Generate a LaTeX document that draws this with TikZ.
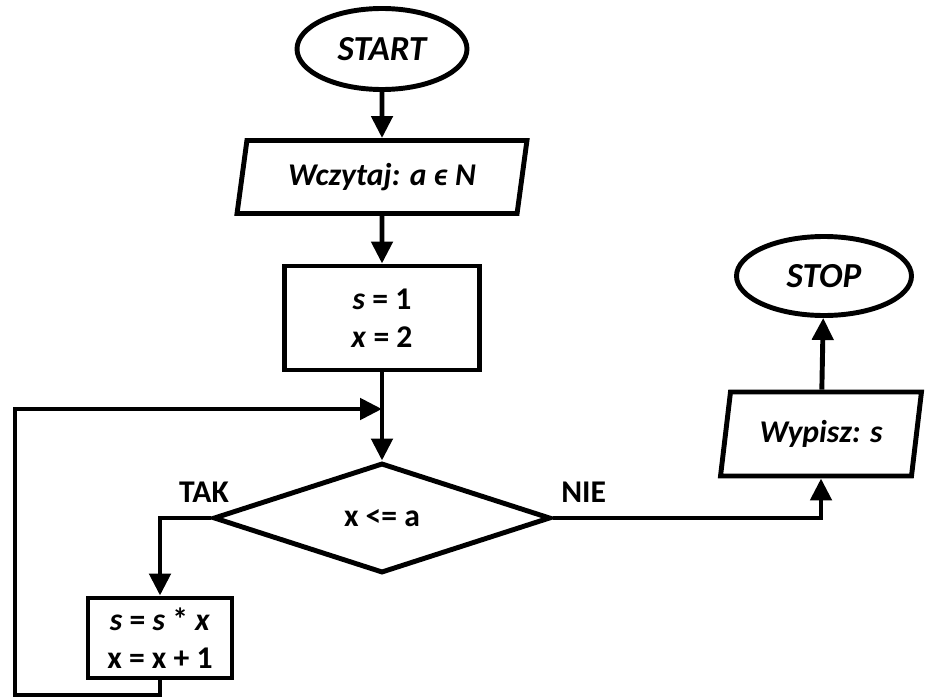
\documentclass[tikz,border=0pt]{standalone}
\usepackage{fontspec}
\setmainfont{Carlito}
\usepackage{tikz}
\usetikzlibrary{arrows.meta,shapes.geometric,positioning}

\begin{document}
\begin{tikzpicture}[
    line width=2.8pt,
    every node/.style={font=\fontsize{18}{21.5}\selectfont\bfseries},
    term/.style={ellipse,draw,line width=2.8pt,inner sep=0pt,minimum width=3.4cm,minimum height=1.62cm,font=\fontsize{20}{24}\selectfont\bfseries\itshape},
    io/.style={trapezium,trapezium left angle=76,trapezium right angle=104,trapezium stretches=true,draw,line width=2.8pt,inner sep=0pt},
    box/.style={rectangle,draw,line width=2.8pt,align=center,inner sep=0pt},
    decision/.style={diamond,draw,line width=2.8pt,inner sep=0pt,minimum width=6.74cm,minimum height=2.2cm},
    arrow/.style={-{Triangle[length=0.44cm,width=0.42cm]},line width=2.8pt}
]
    \useasboundingbox (0,0) rectangle (18.52,-14);

    % Start and input
    \node[term] (start) at (7.64,-0.98) {START};
    \node[io,minimum width=5.8cm,minimum height=1.46cm] (input) at (7.64,-3.54) {\itshape Wczytaj: a ϵ N};
    \draw[arrow] (start) -- (input);

    % Initial values
    \node[box,minimum width=3.9cm,minimum height=2.08cm] (init) at (7.64,-6.36) {\textit{s} = 1\\\textit{x} = 2};
    \draw[arrow] (input) -- (init);

    % Loop condition
    \node[decision] (cond) at (7.64,-10.36) {x <= a};
    \coordinate (join) at (7.64,-8.18);
    \draw[arrow] (init) -- (cond);

    % Loop body
    \node[box,minimum width=2.88cm,minimum height=1.6cm] (body) at (3.2,-12.76) {\textit{s} = \textit{s} * \textit{x}\\x = x + 1};
    \draw[arrow] (cond.west) -| (body.north);
    \node[anchor=south] (tak) at ([xshift=-4pt,yshift=4pt]cond.west) {TAK};

    % Back to the condition
    \coordinate (loopcorner) at (0.3,-13.9);
    \draw[arrow] (body.south) |- (loopcorner) |- (join);

    % Output and stop
    \node[io,minimum width=4.04cm,minimum height=1.68cm] (output) at (16.42,-8.68) {\itshape Wypisz: s};
    \draw[arrow] (cond.east) -| (output.south);
    \node[anchor=south west] (nie) at ([yshift=4pt]cond.east) {NIE};

    \node[term,minimum width=3.5cm,minimum height=1.58cm] (stop) at (16.48,-5.52) {STOP};
    \draw[arrow] (output) -- (stop);
\end{tikzpicture}
\end{document}
